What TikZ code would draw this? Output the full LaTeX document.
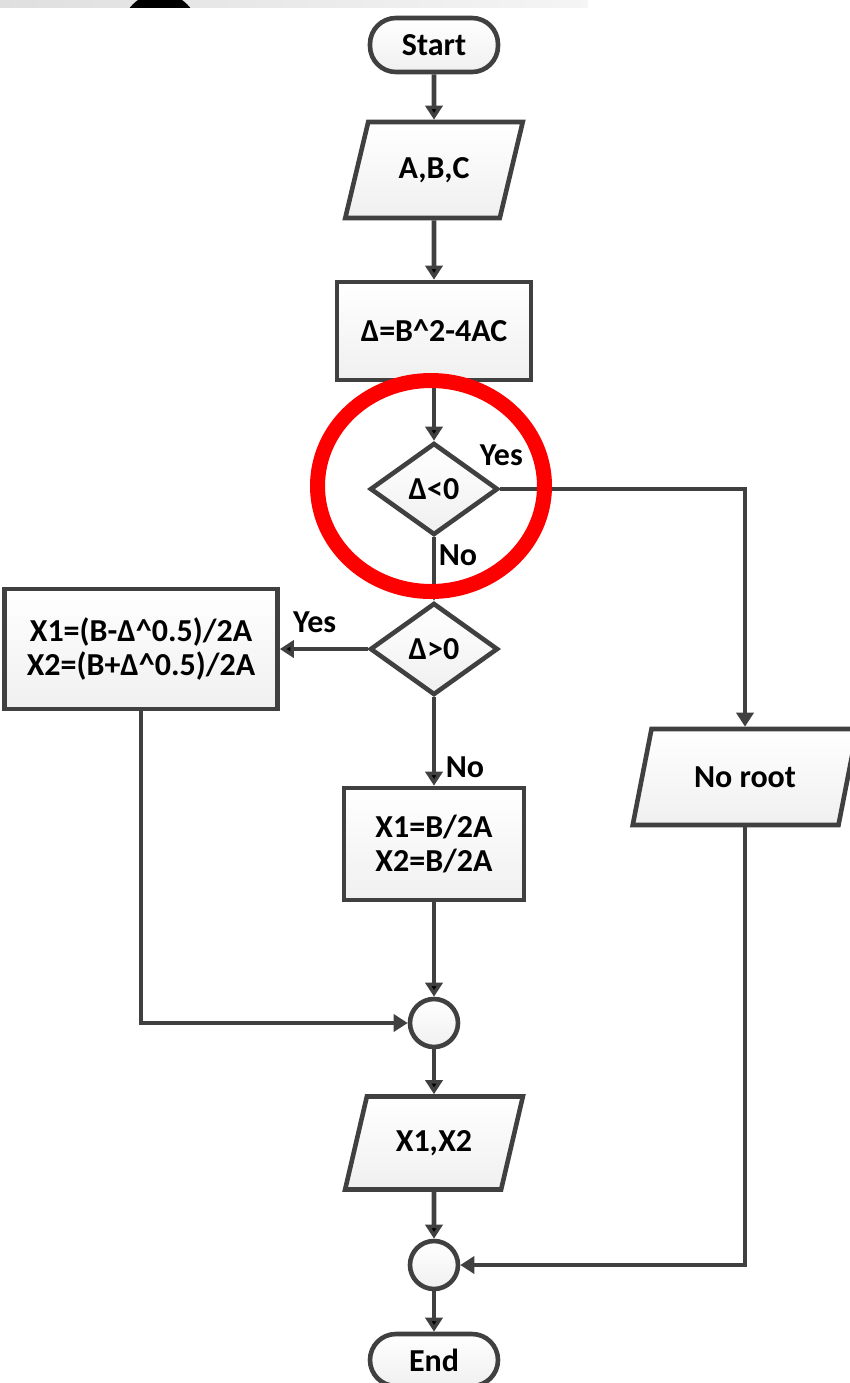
\documentclass[tikz,border=0pt]{standalone}
\usepackage{fontspec}
\setmainfont{Carlito}
\usetikzlibrary{shapes.geometric,arrows.meta,positioning}
\definecolor{edgegray}{HTML}{404040}

\begin{document}
\begin{tikzpicture}[
            font=\fontsize{16}{17}\selectfont\bfseries,
            base/.style={draw=edgegray,line width=2.3pt,top color=white,bottom color=gray!12,align=center,inner sep=0pt},
            term/.style={base,rectangle,rounded corners=13pt,minimum width=64pt,minimum height=27pt},
            io/.style={base,trapezium,trapezium left angle=64,trapezium right angle=116,trapezium stretches=true,minimum width=89pt,minimum height=48pt},
            proc/.style={base,rectangle,minimum width=97pt,minimum height=49pt},
            dec/.style={base,diamond,aspect=1.39,minimum width=64pt,minimum height=46pt},
            merge/.style={base,circle,minimum size=24pt},
            lbl/.style={inner sep=0pt},
            arr/.style={draw=edgegray,line width=2.3pt,-{Triangle[length=7pt,width=8.5pt]}},
        ]

        \useasboundingbox (0,0) rectangle (425pt,-691.5pt);

        % strip at the top of the screenshot
        \shade[left color=gray!25,right color=gray!8] (0,0) rectangle (294pt,-3.75pt);
        \begin{scope}
            \clip (0,0) rectangle (300pt,-3.75pt);
            \fill[black] (80pt,-15.75pt) circle (19.2pt);
        \end{scope}

        \node[term] (start) at (217pt,-22.5pt) {Start};
        \node[io,below of=start,node distance=62.5pt] (abc) {A,B,C};
        \node[proc,below of=abc,node distance=80.5pt] (delta) {Δ=B{\textasciicircum}2-4AC};
        \node[dec,below of=delta,node distance=79pt] (lt) {Δ<0};
        \node[dec,below of=lt,node distance=80pt] (gt) {Δ>0};
        \node[proc,left of=gt,node distance=146.5pt,minimum width=136.5pt,minimum height=60pt] (two) {X1=(B-Δ{\textasciicircum}0.5)/2A\\X2=(B+Δ{\textasciicircum}0.5)/2A};
        \node[proc,below of=gt,node distance=97.5pt,minimum width=90pt,minimum height=56pt] (same) {X1=B/2A\\X2=B/2A};
        \node[io,right of=gt,node distance=155.5pt,yshift=-64pt,minimum width=112.5pt] (noroot) {No root};
        \node[merge,below of=same,node distance=89.5pt] (j1) {};
        \node[io,below of=j1,node distance=60pt,minimum height=46.5pt] (out) {X1,X2};
        \node[merge,below of=out,node distance=61pt] (j2) {};
        \node[term,below of=j2,node distance=47.5pt,minimum height=26pt] (end) {End};

        % branch labels
        \node[lbl] (yes1) at ([xshift=0.5pt,yshift=17pt]lt.east) {Yes};
        \node[lbl] (no1) at ([xshift=12pt,yshift=-9pt]lt.south) {No};
        \node[lbl] (yes2) at ([xshift=-26.5pt,yshift=13.5pt]gt.west) {Yes};
        \node[lbl] (no2) at ([xshift=15.5pt,yshift=-35pt]gt.south) {No};

        \draw[arr]
            (start) edge (abc)
            (abc) edge (delta)
            (delta) edge (lt)
            (lt) edge (gt)
            (gt) edge (two)
            (gt) edge (same)
            (same) edge (j1)
            (j1) edge (out)
            (out) edge (j2)
            (j2) edge (end)
        ;
        \draw[arr] (lt.east) -| (noroot.north);
        \draw[arr] (two.south) |- (j1.west);
        \draw[arr] (noroot.south) |- (j2.east);

        % red mark
        \draw[red,line width=7.5pt] (215.5pt,-243pt) ellipse (56.75pt and 52.75pt);

\end{tikzpicture}
\end{document}
